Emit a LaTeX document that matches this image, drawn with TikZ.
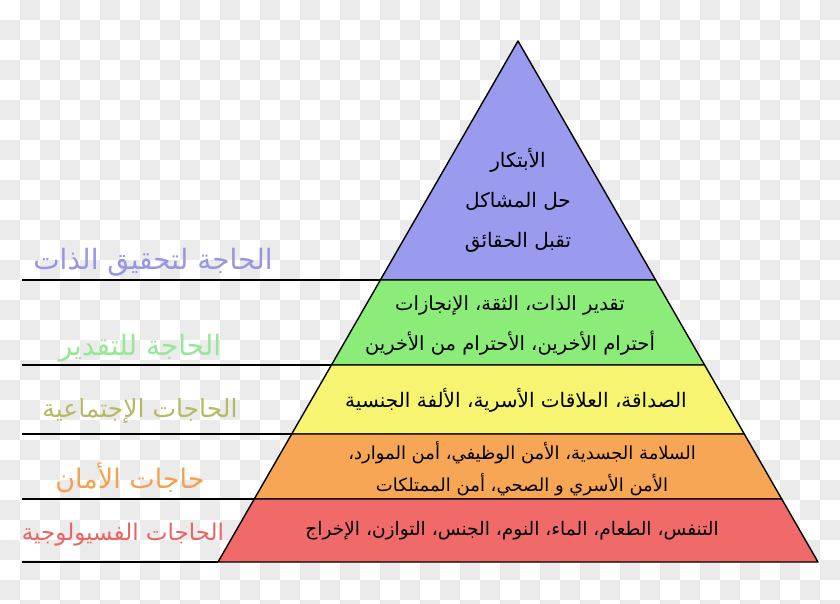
\documentclass[tikz,border=0pt]{standalone}
\usepackage{fontspec}
\usepackage{xcolor}
\usepackage{tikz}
\usetikzlibrary{calc}
\newfontfamily\arabicfont[Script=Arabic]{DejaVu Sans}
\TeXXeTstate=1
\newcommand{\artxt}[1]{\beginR #1\endR}

\definecolor{checker}{RGB}{235,235,235}
\definecolor{selfcol}{RGB}{154,154,238}
\definecolor{esteemcol}{RGB}{140,236,122}
\definecolor{socialcol}{RGB}{246,244,112}
\definecolor{safetycol}{RGB}{246,166,84}
\definecolor{bodycol}{RGB}{240,106,106}
\definecolor{selflab}{RGB}{150,150,228}
\definecolor{esteemlab}{RGB}{150,232,150}
\definecolor{sociallab}{RGB}{184,184,100}
\definecolor{safetylab}{RGB}{244,160,80}
\definecolor{bodylab}{RGB}{234,100,100}

\begin{document}
\begin{tikzpicture}
            [x=1pt, y=-1pt,
            layer/.style={draw, line width=1.4pt, line join=round},
            every node/.style={align=center, inner sep=0pt},
            inside/.style={font=\arabicfont\fontsize{#1}{40}\selectfont},
            inside/.default=19.5,
            need/.style={font=\arabicfont\fontsize{#1}{#1}\selectfont},
            need/.default=26,
            guide/.style={line width=1.4pt}]

            \useasboundingbox (0,0) rectangle (840,604);
            \begin{scope}
                \clip (0,0) rectangle (840,604);
                \fill[white] (0,0) rectangle (840,604);
                \foreach \i in {0,...,41}
                    \foreach \j in {0,...,30} {
                        \pgfmathparse{int(mod(\i+\j,2))}
                        \ifnum\pgfmathresult=1
                            \fill[checker] (20*\i,20*\j) rectangle ++(20,20);
                        \fi
                    }
            \end{scope}

            \coordinate (apex) at (518,41);
            \coordinate (bl) at (218,562);
            \coordinate (br) at (818,562);
            \coordinate (leftx) at (22,0);

            % layers, top to bottom
            \foreach \tp/\bt/\col [count=\k] in
                {0/0.4587/selfcol, 0.4587/0.6219/esteemcol, 0.6219/0.7543/socialcol,
                 0.7543/0.8791/safetycol, 0.8791/1/bodycol} {
                \filldraw[layer, fill=\col] ($(apex)!\tp!(bl)$) -- ($(apex)!\bt!(bl)$)
                    -- ($(apex)!\bt!(br)$) -- ($(apex)!\tp!(br)$) -- cycle;
                \coordinate (edge\k) at ($(apex)!\bt!(bl)$);
            }

            % guide lines
            \foreach \k in {1,...,5}
                \draw[guide] (leftx |- edge\k) -- (edge\k);

            % pyramid texts
            \node[inside=20] (self) at (518,200)
                {\artxt{الأبتكار}\\ \artxt{حل المشاكل}\\ \artxt{تقبل الحقائق}};
            \node[inside] (esteem) at (510,325)
                {\artxt{تقدير الذات، الثقة، الإنجازات}\\ \artxt{أحترام الأخرين، الأحترام من الأخرين}};
            \node[inside=20] (social) at (516,400)
                {\artxt{الصداقة، العلاقات الأسرية، الألفة الجنسية}};
            \node[inside, font=\arabicfont\fontsize{18}{32}\selectfont] (safety) at (522,469)
                {\artxt{السلامة الجسدية، الأمن الوظيفي، أمن الموارد،}\\ \artxt{الأمن الأسري و الصحي، أمن الممتلكات}};
            \node[inside=18.6] (body) at (512,531)
                {\artxt{التنفس، الطعام، الماء، النوم، الجنس، التوازن، الإخراج}};

            % need labels
            \node[need=28, text=selflab] (selfneed) at (153,262) {\artxt{الحاجة لتحقيق الذات}};
            \node[need=28, text=esteemlab] (esteemneed) at (140,348) {\artxt{الحاجة للتقدير}};
            \node[need=25, text=sociallab] (socialneed) at (140,411) {\artxt{الحاجات الإجتماعية}};
            \node[need=27, text=safetylab] (safetyneed) at (130,478) {\artxt{حاجات الأمان}};
            \node[need=23, text=bodylab] (bodyneed) at (123,535) {\artxt{الحاجات الفسيولوجية}};
        \end{tikzpicture}
\end{document}
